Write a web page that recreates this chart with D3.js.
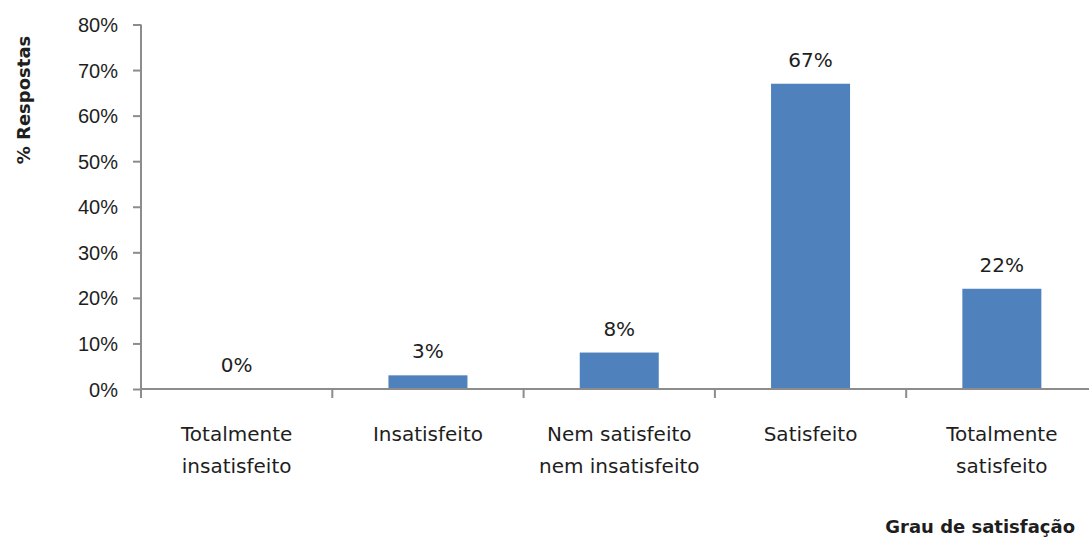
<!DOCTYPE html>
<html>
<head>
<meta charset="utf-8">
<script src="https://d3js.org/d3.v7.min.js"></script>
<style>
body { margin:0; background:#fff; }
svg { font-family: "DejaVu Sans", sans-serif; }
.axis path, .axis line { stroke:#8c8c8c; stroke-width:2px; }
.axis text { fill:#1e1e1e; font-size:20px; }
.lbl { fill:#1e1e1e; font-size:20px; }
</style>
</head>
<body>
<div id="chart"></div>
<script>

// data
var categories = ["Totalmente insatisfeito", "Insatisfeito", "Nem satisfeito nem insatisfeito", "Satisfeito", "Totalmente satisfeito"];
var catLines = [["Totalmente", "insatisfeito"], ["Insatisfeito"], ["Nem satisfeito", "nem insatisfeito"], ["Satisfeito"], ["Totalmente", "satisfeito"]];
var values = [0, 0.03, 0.08, 0.67, 0.22];
var yTicks = [0, 0.1, 0.2, 0.3, 0.4, 0.5, 0.6, 0.7, 0.8];

let margin = {top: 24.5, right: -8.5, bottom: 152, left: 141},
    width = 1089 - margin.left - margin.right,
    height = 541 - margin.top - margin.bottom;

let x = d3.scaleBand().domain(categories).range([0, width]).paddingInner(0.587).paddingOuter(0.2935),
    y = d3.scaleLinear().domain([0, 0.8]).range([height, 0]);

let svg = d3.select("#chart").append("svg")
    .attr("width", 1089)
    .attr("height", 541);

let g = svg.append("g")
    .attr("transform", "translate(" + margin.left + "," + margin.top + ")");

// y axis
g.append("g")
    .attr("class", "axis axis--y")
    .call(d3.axisLeft(y).tickValues(yTicks).tickSize(8).tickPadding(15).tickFormat(d3.format(".0%")))
    .call(s => s.select(".domain").attr("d", "M0," + y(0.8) + "V" + y(0)))
    .selectAll("text").attr("dy", "0.35em");

// bars
g.selectAll(".bar")
    .data(values)
    .enter().append("rect")
    .attr("class", "bar")
    .attr("fill", "#4f81bd")
    .attr("x", (d, i) => x(categories[i]))
    .attr("width", x.bandwidth())
    .attr("y", d => y(d))
    .attr("height", d => height - y(d));

// value labels
g.selectAll(".val")
    .data(values)
    .enter().append("text")
    .attr("class", "lbl")
    .attr("text-anchor", "middle")
    .attr("x", (d, i) => x(categories[i]) + x.bandwidth() / 2)
    .attr("y", d => y(d) - 17)
    .text(d => d3.format(".0%")(d));

// x axis
let xa = g.append("g")
    .attr("class", "axis axis--x")
    .attr("transform", "translate(0," + height + ")");

xa.append("path")
    .attr("d", "M0,0H" + width);

let bounds = d3.range(categories.length + 1).map(i => i * x.step());
xa.selectAll(".tk")
    .data(bounds)
    .enter().append("line")
    .attr("x1", d => d).attr("x2", d => d)
    .attr("y1", 0).attr("y2", 9);

let cl = g.selectAll(".cat")
    .data(catLines)
    .enter().append("text")
    .attr("class", "lbl")
    .attr("text-anchor", "middle")
    .attr("transform", (d, i) => "translate(" + (x(categories[i]) + x.bandwidth() / 2) + "," + (height + 52) + ")");

cl.selectAll("tspan")
    .data(d => d)
    .enter().append("tspan")
    .attr("x", 0)
    .attr("y", (d, i) => i * 32)
    .text(d => d);

// axis titles
svg.append("text")
    .attr("font-size", 18)
    .attr("font-weight", "bold")
    .attr("fill", "#1e1e1e")
    .attr("text-anchor", "middle")
    .attr("transform", "translate(30,100) rotate(-90)")
    .text("% Respostas");

svg.append("text")
    .attr("font-size", 18)
    .attr("font-weight", "bold")
    .attr("fill", "#1e1e1e")
    .attr("text-anchor", "end")
    .attr("x", 1075)
    .attr("y", 533)
    .text("Grau de satisfação");

</script>
</body>
</html>
